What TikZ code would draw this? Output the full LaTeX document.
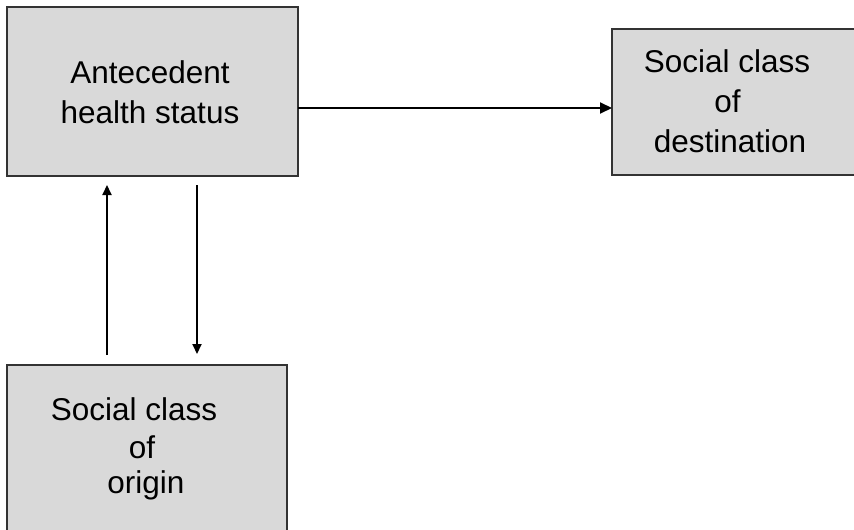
\documentclass[tikz,border=0pt]{standalone}
\usepackage{fontspec}
\setmainfont{Liberation Sans}
\usetikzlibrary{arrows.meta,calc}
\definecolor{boxfill}{HTML}{D9D9D9}
\definecolor{boxline}{HTML}{333333}
\begin{document}
\begin{tikzpicture}[x=1pt,y=-1pt,
  box/.style={draw=boxline, line width=1.3pt, fill=boxfill, rectangle, inner sep=0pt, outer sep=0pt, anchor=north west},
  lbl/.style={anchor=base, inner sep=0pt, font=\fontsize{31.5}{40}\selectfont, text=black},
  arr/.style={line width=2pt, -{Triangle[length=12pt,width=11pt]}},
  varr/.style={line width=2pt, -{Triangle[length=10pt,width=9pt]}}]
\useasboundingbox (0,0) rectangle (854,530);
\clip (0,0) rectangle (854,530);
\fill[white] (0,0) rectangle (854,530);
% boxes
\node[box, minimum width=291pt, minimum height=169pt] (health) at (7,7) {};
\node[box, minimum width=260pt, minimum height=146pt] (dest) at (612,29) {};
\node[box, minimum width=280pt, minimum height=190pt] (origin) at (7,365) {};
% labels
\node[lbl] (h1) at (150,83) {Antecedent};
\node[lbl] (h2) at (150,123) {health status};
\node[lbl] (d1) at (727,72) {Social class};
\node[lbl] (d2) at (727.5,112) {of};
\node[lbl] (d3) at (730,152) {destination};
\node[lbl] (o1) at (134,420) {Social class};
\node[lbl] (o2) at (142,458) {of};
\node[lbl] (o3) at (146,493) {origin};
% connectors
\draw[arr] (health.east |- 0,108) -- (dest.west |- 0,108);
\draw[varr] ($(origin.north -| 107,0)+(0,-10)$) -- ($(health.south -| 107,0)+(0,9)$);
\draw[varr] ($(health.south -| 197,0)+(0,9)$) -- ($(origin.north -| 197,0)+(0,-11)$);
\end{tikzpicture}
\end{document}
